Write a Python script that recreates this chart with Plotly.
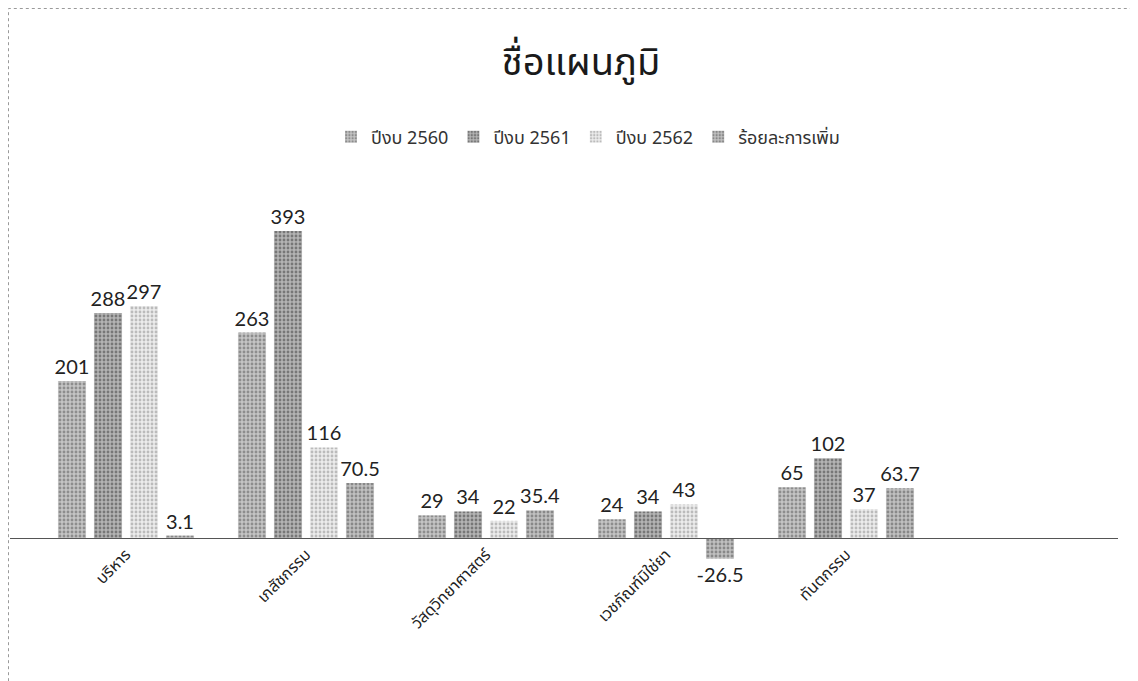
import plotly.graph_objects as go

categories = ["บริหาร", "เภสัชกรรม", "วัสดุวิทยาศาสตร์", "เวชภัณฑ์มิใช่ยา", "ทันตกรรม"]
series_names = ["ปีงบ 2560", "ปีงบ 2561", "ปีงบ 2562", "ร้อยละการเพิ่ม"]
y2560 = [201, 263, 29, 24, 65]
y2561 = [288, 393, 34, 34, 102]
y2562 = [297, 116, 22, 43, 37]
pct_increase = [3.1, 70.5, 35.4, -26.5, 63.7]
series_values = [y2560, y2561, y2562, pct_increase]

styles = [
    dict(bg="#c4c4c4", fg="#555555"),
    dict(bg="#b4b4b4", fg="#3a3a3a"),
    dict(bg="#ececec", fg="#8a8a8a"),
    dict(bg="#c0c0c0", fg="#505050"),
]

thai_font = "Noto Sans Thai, Tahoma, Noto Sans, DejaVu Sans, sans-serif"
num_font = "Lato, Open Sans, sans-serif"

fig = go.Figure()
for name, vals, st in zip(series_names, series_values, styles):
    fig.add_trace(go.Bar(
        name=name, x=categories, y=vals,
        text=[f"{v:g}" for v in vals],
        textposition="outside",
        cliponaxis=False,
        constraintext="none",
        textfont=dict(family=num_font, size=20, color="#222222"),
        marker=dict(
            color=st["bg"],
            line=dict(width=0),
            pattern=dict(shape=".", fgcolor=st["fg"], bgcolor=st["bg"], size=4, solidity=0.4),
        ),
    ))

# page body has an 8px margin; target pixel positions below are in page coords
off = 8
W, H = 1138 - off, 681 - off
plot_left, plot_right = 10, 1118
plot_top, plot_bottom = 190, 600
baseline_px = 538
cat0_px = 126
x_px_per_cat = 180
px_per_unit = 0.781

ml = plot_left - off
mr = W - (plot_right - off)
mt = plot_top - off
mb = H - (plot_bottom - off)
plot_h = plot_bottom - plot_top
plot_w = plot_right - plot_left
xr0 = -(cat0_px - plot_left) / x_px_per_cat
xr1 = xr0 + plot_w / x_px_per_cat
yr1 = (baseline_px - plot_top) / px_per_unit
yr0 = -(plot_bottom - baseline_px) / px_per_unit

fig.update_layout(
    width=W, height=H, autosize=False,
    margin=dict(l=ml, r=mr, t=mt, b=mb),
    paper_bgcolor="white", plot_bgcolor="white",
    barmode="group", bargap=0.2, bargroupgap=0.22,
    title=dict(text="ชื่อแผนภูมิ", x=(581 - off) / W, xanchor="center", y=1 - (62 - off) / H, yanchor="middle",
               font=dict(family=thai_font, size=38, color="#1a1a1a")),
    legend=dict(orientation="h", x=(588 - plot_left) / plot_w,
                xanchor="center",
                y=(plot_bottom - 137) / plot_h, yanchor="middle",
                font=dict(family=thai_font, size=18, color="#333333"),
                itemwidth=30, traceorder="normal"),
    xaxis=dict(range=[xr0, xr1], anchor="free", position=(plot_bottom - baseline_px) / plot_h,
               showline=True, linecolor="#555555", linewidth=1, ticks="",
               tickangle=-45, tickfont=dict(family=thai_font, size=16, color="#222222"),
               showgrid=False, zeroline=False, fixedrange=True),
    yaxis=dict(range=[yr0, yr1], visible=False, showgrid=False, zeroline=False),
    showlegend=True,
)

fig.add_shape(type="rect", xref="paper", yref="paper",
              x0=(8.5 - plot_left) / plot_w, x1=1.05,
              y0=-0.3, y1=(plot_bottom - 8.5) / plot_h,
              line=dict(color="#9a9a9a", width=1, dash="dot"), layer="below")

fig.write_html("out.html")
